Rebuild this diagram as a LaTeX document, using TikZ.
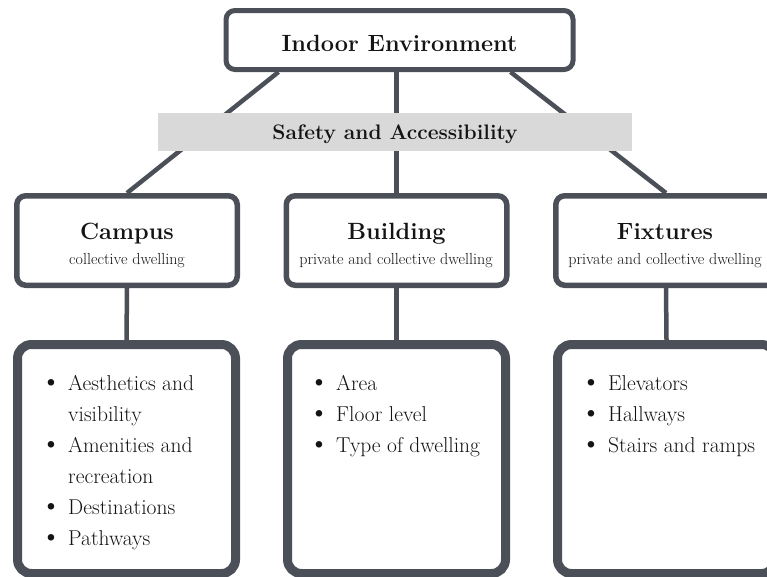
\documentclass[tikz,border=0pt]{standalone}
\usetikzlibrary{backgrounds}
\definecolor{edge}{HTML}{4B4F57}
\definecolor{barfill}{HTML}{D9D9D9}
\definecolor{ink}{HTML}{141414}
\newcommand{\itm}{\makebox[22pt][l]{\hspace*{-5.5pt}\scalebox{1.35}{\textbullet}}}
\begin{document}
\begin{tikzpicture}[x=1pt,y=-1pt,
  topbox/.style={draw=edge, line width=5pt, rounded corners=9pt, fill=white, minimum width=347pt, minimum height=59pt, inner sep=0pt},
  midbox/.style={draw=edge, line width=5.5pt, rounded corners=9pt, fill=white, minimum width=220.5pt, minimum height=89.5pt, inner sep=0pt},
  listbox/.style={draw=edge, line width=9pt, rounded corners=14pt, fill=white, minimum width=218pt, minimum height=229pt, inner sep=0pt},
  barbox/.style={fill=barfill, minimum width=474pt, minimum height=38pt, inner sep=0pt},
  conn/.style={draw=edge, line width=4.5pt},
  headtxt/.style={anchor=base, inner sep=0pt, text=ink, font=\fontsize{23.5}{28}\selectfont\bfseries},
  subtxt/.style={anchor=base, inner sep=0pt, text=ink, font=\fontsize{16}{19}\selectfont},
  listtxt/.style={anchor=base west, inner sep=0pt, text=ink, font=\fontsize{21.5}{31}\selectfont}
]
\useasboundingbox (0,0) rectangle (767,576);
\clip (0,0) rectangle (767,576);

% boxes
\node[topbox] (top) at (399.5,40) {};
\node[barbox] (bar) at (395,132) {};
\node[midbox] (campus) at (127,240.5) {};
\node[midbox] (building) at (396.5,240.5) {};
\node[midbox] (fixtures) at (666,240.5) {};
\node[listbox] (campusL) at (126.5,459) {};
\node[listbox] (buildingL) at (396.5,459) {};
\node[listbox] (fixturesL) at (666.5,459) {};

% connectors
\begin{scope}[on background layer]
\draw[conn] ([xshift=-121pt]top.south) -- (campus.north);
\draw[conn] (top.south -| building.north) -- (building.north);
\draw[conn] ([xshift=111pt]top.south) -- (fixtures.north);
\draw[conn] (campus.south) -- (campusL.north);
\draw[conn] (building.south) -- (buildingL.north);
\draw[conn] (fixtures.south) -- (fixturesL.north);
\end{scope}

% texts
\node[headtxt] (toptxt) at (399.5,51.5) {Indoor Environment};
\node[headtxt, font=\fontsize{21}{25}\selectfont\bfseries] (bartxt) at (395,139) {Safety and Accessibility};
\node[headtxt] (campusT) at (127,239) {Campus};
\node[subtxt] (campusS) at (127,264.5) {collective dwelling};
\node[headtxt] (buildingT) at (396.5,239) {Building};
\node[subtxt] (buildingS) at (396,264.5) {private and collective dwelling};
\node[headtxt] (fixturesT) at (665,239) {Fixtures};
\node[subtxt] (fixturesS) at (665,264.5) {private and collective dwelling};

\node[listtxt] (campusList) at (46,390) {\begin{tabular}[t]{@{}l@{}}
\itm Aesthetics and\\ \hspace*{22pt}visibility\\ \itm Amenities and\\ \hspace*{22pt}recreation\\ \itm Destinations\\ \itm Pathways\end{tabular}};
\node[listtxt] (buildingList) at (314,390) {\begin{tabular}[t]{@{}l@{}}
\itm Area\\ \itm Floor level\\ \itm Type of dwelling\end{tabular}};
\node[listtxt] (fixturesList) at (586,390) {\begin{tabular}[t]{@{}l@{}}
\itm Elevators\\ \itm Hallways\\ \itm Stairs and ramps\end{tabular}};
\end{tikzpicture}
\end{document}
